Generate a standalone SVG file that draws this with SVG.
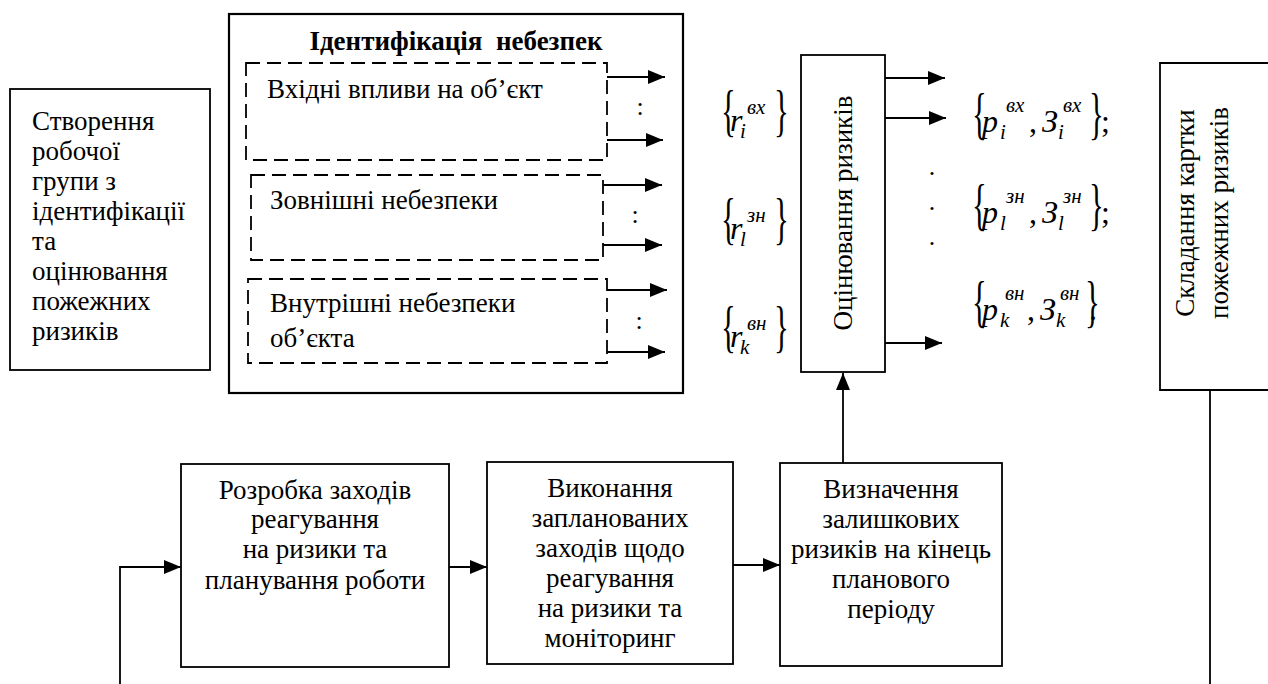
<svg xmlns="http://www.w3.org/2000/svg" width="1268" height="684" viewBox="0 0 1268 684">
<style>
text{font-family:"Liberation Serif","Times New Roman",serif;fill:#000}
.t{font-size:27px}
.c{font-size:27px;text-anchor:middle}
.h{font-size:27px;font-weight:bold;text-anchor:middle}
.box{fill:#fff;stroke:#000;stroke-width:1.8}
.big{fill:#fff;stroke:#000;stroke-width:2.2}
.dash{fill:none;stroke:#000;stroke-width:1.8;stroke-dasharray:14 7}
.ln{fill:none;stroke:#000;stroke-width:1.8}
.m{font-size:32px;font-style:italic}
.s{font-size:21px;font-style:italic}
.br{font-size:56px}
.u{font-size:32px}
.col{font-size:26px;text-anchor:middle}
</style>
<defs>
<marker id="ah" markerUnits="userSpaceOnUse" markerWidth="18" markerHeight="16" refX="17" refY="7" orient="auto">
<path d="M0,0 L17,7 L0,14 z" fill="#000"/>
</marker>
</defs>

<g id="node-workgroup">
<rect class="box" x="10" y="89" width="200" height="281"/>
<text class="t" x="32" y="130">Створення</text>
<text class="t" x="32" y="160">робочої</text>
<text class="t" x="32" y="190">групи з</text>
<text class="t" x="32" y="220">ідентифікації</text>
<text class="t" x="32" y="250">та</text>
<text class="t" x="32" y="280">оцінювання</text>
<text class="t" x="32" y="310">пожежних</text>
<text class="t" x="32" y="340">ризиків</text>
</g>

<g id="node-identification">
<rect class="big" x="229" y="14" width="454" height="379"/>
<text class="h" x="456" y="50" xml:space="preserve">Ідентифікація  небезпек</text>
</g>

<g id="node-input">
<rect class="dash" x="246" y="63" width="361" height="97"/>
<text class="t" x="267" y="98">Вхідні впливи на об’єкт</text>
<text class="col" x="640" y="115">:</text>
</g>

<g id="node-external">
<rect class="dash" x="251" y="175" width="352" height="85"/>
<text class="t" x="270" y="209">Зовнішні небезпеки</text>
<text class="col" x="635" y="223">:</text>
</g>

<g id="node-internal">
<rect class="dash" x="248" y="279" width="359" height="84"/>
<text class="t" x="270" y="312">Внутрішні небезпеки</text>
<text class="t" x="270" y="347">об’єкта</text>
<text class="col" x="639" y="329">:</text>
</g>

<g id="formula-r">
<text class="br" transform="translate(721,130) scale(0.55,1)">{</text>
<text class="m" x="730" y="131">r</text>
<text class="s" x="740" y="138">i</text>
<text class="s" x="747" y="114">вх</text>
<text class="br" transform="translate(774,130) scale(0.55,1)">}</text>

<text class="br" transform="translate(721,238) scale(0.55,1)">{</text>
<text class="m" x="730" y="239">r</text>
<text class="s" x="740" y="246">l</text>
<text class="s" x="747" y="222">зн</text>
<text class="br" transform="translate(774,238) scale(0.55,1)">}</text>

<text class="br" transform="translate(721,346) scale(0.55,1)">{</text>
<text class="m" x="730" y="347">r</text>
<text class="s" x="740" y="354">k</text>
<text class="s" x="747" y="330">вн</text>
<text class="br" transform="translate(774,346) scale(0.55,1)">}</text>
</g>

<g id="node-assessment">
<rect class="box" x="801" y="55" width="84" height="317"/>
<text class="c" transform="translate(852,213) rotate(-90)">Оцінювання ризиків</text>
</g>

<g id="dots">
<text class="col" x="932" y="175">.</text>
<text class="col" x="932" y="210">.</text>
<text class="col" x="932" y="245">.</text>
</g>

<g id="formula-p">
<text class="br" transform="translate(972,133) scale(0.55,1)">{</text>
<text class="m" x="982" y="132">p</text>
<text class="s" x="1000" y="139">i</text>
<text class="s" x="1006" y="112">вх</text>
<text class="u" x="1029" y="132">,</text>
<text class="m" x="1042" y="132">З</text>
<text class="s" x="1058" y="139">i</text>
<text class="s" x="1063" y="112">вх</text>
<text class="br" transform="translate(1089,133) scale(0.55,1)">}</text>
<text class="u" x="1101" y="132">;</text>

<text class="br" transform="translate(972,224) scale(0.55,1)">{</text>
<text class="m" x="982" y="223">p</text>
<text class="s" x="1000" y="230">l</text>
<text class="s" x="1006" y="203">зн</text>
<text class="u" x="1029" y="223">,</text>
<text class="m" x="1042" y="223">З</text>
<text class="s" x="1058" y="230">l</text>
<text class="s" x="1063" y="203">зн</text>
<text class="br" transform="translate(1089,224) scale(0.55,1)">}</text>
<text class="u" x="1101" y="223">;</text>

<text class="br" transform="translate(972,321) scale(0.55,1)">{</text>
<text class="m" x="982" y="320">p</text>
<text class="s" x="1000" y="327">k</text>
<text class="s" x="1005" y="300">вн</text>
<text class="u" x="1027" y="320">,</text>
<text class="m" x="1040" y="320">З</text>
<text class="s" x="1056" y="327">k</text>
<text class="s" x="1060" y="300">вн</text>
<text class="br" transform="translate(1085,321) scale(0.55,1)">}</text>
<text class="u" x="1089" y="320">.</text>
</g>

<g id="node-map">
<path class="box" d="M1270,63 H1160 V390 H1270" fill="none"/>
<text class="c" transform="translate(1194,213) rotate(-90)">Складання картки</text>
<text class="c" transform="translate(1228,213) rotate(-90)">пожежних ризиків</text>
</g>

<g id="node-measures">
<rect class="box" x="181" y="464" width="268" height="203"/>
<text class="c" x="315" y="499">Розробка заходів</text>
<text class="c" x="315" y="528">реагування</text>
<text class="c" x="315" y="558">на ризики та</text>
<text class="c" x="315" y="589">планування роботи</text>
</g>

<g id="node-execution">
<rect class="box" x="487" y="462" width="246" height="202"/>
<text class="c" x="610" y="497">Виконання</text>
<text class="c" x="610" y="527">запланованих</text>
<text class="c" x="610" y="557">заходів щодо</text>
<text class="c" x="610" y="587">реагування</text>
<text class="c" x="610" y="617">на ризики та</text>
<text class="c" x="610" y="647">моніторинг</text>
</g>

<g id="node-residual">
<rect class="box" x="780" y="463" width="222" height="203"/>
<text class="c" x="891" y="498">Визначення</text>
<text class="c" x="891" y="528">залишкових</text>
<text class="c" x="891" y="558">ризиків на кінець</text>
<text class="c" x="891" y="588">планового</text>
<text class="c" x="891" y="618">періоду</text>
</g>

<g id="connectors">
<path class="ln" d="M607,77 H665" marker-end="url(#ah)"/>
<path class="ln" d="M607,140 H663" marker-end="url(#ah)"/>
<path class="ln" d="M603,185 H662" marker-end="url(#ah)"/>
<path class="ln" d="M603,245 H662" marker-end="url(#ah)"/>
<path class="ln" d="M607,290 H667" marker-end="url(#ah)"/>
<path class="ln" d="M607,352 H665" marker-end="url(#ah)"/>
<path class="ln" d="M885,78 H945" marker-end="url(#ah)"/>
<path class="ln" d="M885,118 H946" marker-end="url(#ah)"/>
<path class="ln" d="M885,343 H942" marker-end="url(#ah)"/>
<path class="ln" d="M843,463 V373" marker-end="url(#ah)"/>
<path class="ln" d="M120,684 V567 H181" marker-end="url(#ah)"/>
<path class="ln" d="M449,567 H487" marker-end="url(#ah)"/>
<path class="ln" d="M733,565 H780" marker-end="url(#ah)"/>
<path class="ln" d="M1210,390 V684"/>
</g>
</svg>
